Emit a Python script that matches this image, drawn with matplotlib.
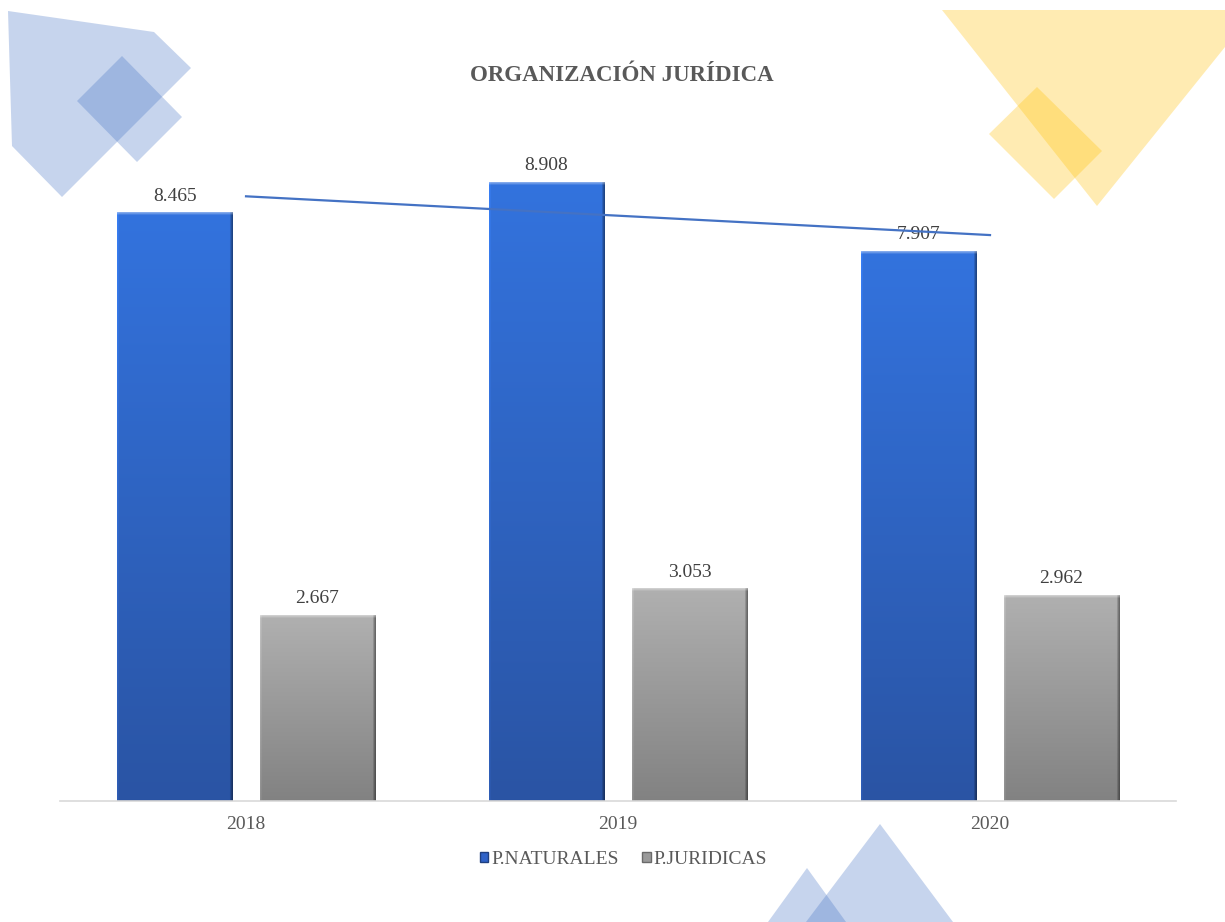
import numpy as np
import matplotlib
matplotlib.use("Agg")
import matplotlib.pyplot as plt
from matplotlib.patches import Polygon, Patch

years = ["2018", "2019", "2020"]
naturales = [8.465, 8.908, 7.907]
juridicas = [2.667, 3.053, 2.962]
label_naturales = ["8.465", "8.908", "7.907"]
label_juridicas = ["2.667", "3.053", "2.962"]

SERIF = "Liberation Serif"
TXT = "#595959"


def hex2rgb(h):
    h = h.lstrip("#")
    return np.array([int(h[i:i + 2], 16) for i in (0, 2, 4)]) / 255.0


def gradient_bar(ax, x0, width, height, top, bottom):
    # roughly one image pixel per screen pixel
    ny = max(int(height * 69.5), 10)
    nx = 115
    t = np.linspace(0, 1, ny)[:, None, None]
    col = hex2rgb(top) * (1 - t) + hex2rgb(bottom) * t
    img = np.repeat(col, nx, axis=1)
    # bevel: dark right rim, light left rim, light top rim
    shade = np.ones(nx)
    shade[-3:] = [0.85, 0.7, 0.6]
    shade[:2] = [1.1, 1.05]
    img = img * shade[None, :, None]
    img[0] = img[0] * 0.6 + 0.4
    img[1] = img[1] * 0.75 + 0.25
    img[2] = img[2] * 0.9 + 0.1
    img[-1] = img[-1] * 0.8
    img = np.clip(img, 0, 1)
    ax.imshow(img, extent=(x0, x0 + width, 0, height), aspect="auto",
              interpolation="bilinear", zorder=2)


fig = plt.figure(figsize=(12.25, 9.22), dpi=100)

# decorative background shapes, in pixel coords
bg = fig.add_axes([0, 0, 1, 1], zorder=0)
bg.set_xlim(0, 1225)
bg.set_ylim(922, 0)
bg.axis("off")
blue = "#4472c4"
yellow = "#ffc000"
shapes = [
    ([(8, 11), (154, 32), (191, 68), (62, 197), (12, 146)], blue),
    ([(122, 56), (182, 117), (137, 162), (77, 101)], blue),
    ([(942, 10), (1225, 10), (1225, 47), (1097, 206)], yellow),
    ([(1037, 87), (1102, 151), (1054, 199), (989, 134)], yellow),
    ([(880, 824), (953, 922), (806, 922)], blue),
    ([(807, 868), (846, 922), (768, 922)], blue),
]
for pts, c in shapes:
    bg.add_patch(Polygon(pts, closed=True, facecolor=c, edgecolor="none", alpha=0.3))

ax = fig.add_axes([0.049, 0.1312, 0.911, 0.7534], zorder=1)
ax.patch.set_alpha(0)

x = np.arange(len(years))
w = 0.31
off = 0.192
for i in range(len(years)):
    gradient_bar(ax, x[i] - off - w / 2, w, naturales[i], "#3373de", "#2a54a4")
    gradient_bar(ax, x[i] + off - w / 2, w, juridicas[i], "#b0b0b0", "#828282")
    ax.text(x[i] - off, naturales[i] + 0.12, label_naturales[i], ha="center", va="bottom",
            fontsize=14, family=SERIF, color="#404040", zorder=3)
    ax.text(x[i] + off, juridicas[i] + 0.12, label_juridicas[i], ha="center", va="bottom",
            fontsize=14, family=SERIF, color="#404040", zorder=3)

# linear trendline of P.NATURALES
k, b = np.polyfit(x, naturales, 1)
ax.plot(x, k * x + b, color=blue, lw=1.6, zorder=4)

ax.set_xlim(-0.5, 2.5)
ax.set_ylim(0, 10)
ax.set_xticks(x)
ax.set_xticklabels(years, family=SERIF, fontsize=14, color=TXT)
ax.tick_params(axis="x", length=0, pad=11)
ax.set_yticks([])
for s in ["top", "right", "left"]:
    ax.spines[s].set_visible(False)
ax.spines["bottom"].set_color("#d9d9d9")
ax.spines["bottom"].set_linewidth(1.2)

fig.text(0.508, 0.918, "ORGANIZACIÓN JURÍDICA", ha="center", va="center",
         family=SERIF, fontsize=16.5, fontweight="bold", color=TXT)

handles = [Patch(facecolor="#2f62c8", edgecolor="#1f3f80"),
           Patch(facecolor="#9a9a9a", edgecolor="#6a6a6a")]
leg = fig.legend(handles, ["P.NATURALES", "P.JURIDICAS"], loc="center",
                 bbox_to_anchor=(0.509, 0.068), ncol=2, frameon=False,
                 handlelength=0.45, handleheight=0.45, handletextpad=0.15,
                 columnspacing=1.2, prop={"family": SERIF, "size": 14})
for t in leg.get_texts():
    t.set_color(TXT)

fig.savefig("out.png", dpi=100)
